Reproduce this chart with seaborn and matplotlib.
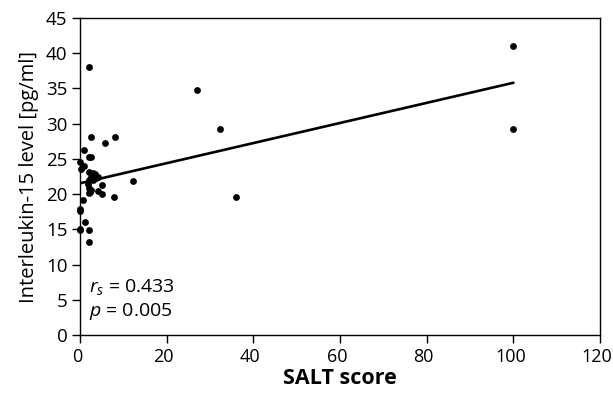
import pandas as pd
import matplotlib.pyplot as plt
import matplotlib.transforms as mtransforms
import seaborn as sns

# SALT score vs IL-15 level
salt = [2.0, 27.0, 32.2, 36.1, 100, 100, 2.5, 8.1, 5.7, 1.0, 2.1, 2.5, 0.1, 1.0,
        0.2, 2.0, 2.9, 3.4, 2.6, 3.7, 4.1, 2.0, 2.9, 1.8, 5.1, 12.2, 2.1, 2.5,
        4.2, 5.1, 2.0, 2.2, 7.9, 0.7, 0.0, 0.0, 1.1, 0.0, 0.1, 2.1, 2.0]
il15 = [38.1, 34.8, 29.2, 19.6, 41.0, 29.3, 28.1, 28.1, 27.2, 26.2, 25.3, 25.3,
        24.5, 24.0, 23.5, 23.1, 23.0, 22.8, 22.5, 22.3, 22.4, 22.0, 22.0, 21.4,
        21.3, 21.8, 20.8, 20.6, 20.4, 20.0, 20.1, 20.3, 19.6, 19.2, 17.9, 17.6,
        16.1, 15.1, 14.9, 14.9, 13.2]
x_ticks = [0, 20, 40, 60, 80, 100, 120]
y_ticks = [0, 5, 10, 15, 20, 25, 30, 35, 40, 45]

df = pd.DataFrame({"SALT": salt, "IL15": il15})

sns.set_style("ticks")
plt.rcParams['font.family'] = ['Open Sans', 'DejaVu Sans']
plt.rcParams['mathtext.fontset'] = 'custom'
plt.rcParams['mathtext.rm'] = 'Open Sans'
plt.rcParams['mathtext.it'] = 'Open Sans:italic'
plt.rcParams['text.color'] = 'black'
plt.rcParams['axes.labelcolor'] = 'black'
plt.rcParams['xtick.color'] = 'black'
plt.rcParams['ytick.color'] = 'black'

fig = plt.figure(figsize=(6.13, 3.96), dpi=100)
ax = fig.add_axes([0.1305, 0.154, 0.8485, 0.8005])

sns.regplot(data=df, x="SALT", y="IL15", ci=None, ax=ax, color="black",
            scatter_kws={"s": 24, "linewidths": 0, "alpha": 1, "clip_on": False},
            line_kws={"linewidth": 1.9})

ax.set_xlim(0, 120)
ax.set_ylim(0, 45)
ax.set_xticks(x_ticks)
ax.set_yticks(y_ticks)
ax.tick_params(labelsize=13.5, length=6, width=1, direction="out", pad=3)
ax.tick_params(axis="x", labelsize=13)
for s in ax.spines.values():
    s.set_linewidth(1)
    s.set_color("black")

# nudge x tick labels a little left so "120" stays inside the figure
shift = mtransforms.ScaledTranslation(-3 / 100, 0, fig.dpi_scale_trans)
for lbl in ax.get_xticklabels():
    lbl.set_transform(lbl.get_transform() + shift)

ax.set_xlabel("SALT score", fontsize=15.5, fontweight="bold", labelpad=2)
ax.set_ylabel("Interleukin-15 level [pg/ml]", fontsize=14.5, labelpad=5)

ax.text(2, 6.15, r"$r_{s}$ = 0.433", fontsize=14, va="baseline")
ax.text(2, 2.75, r"$p$ = 0.005", fontsize=14, va="baseline")

fig.savefig("out.png", dpi=100)
